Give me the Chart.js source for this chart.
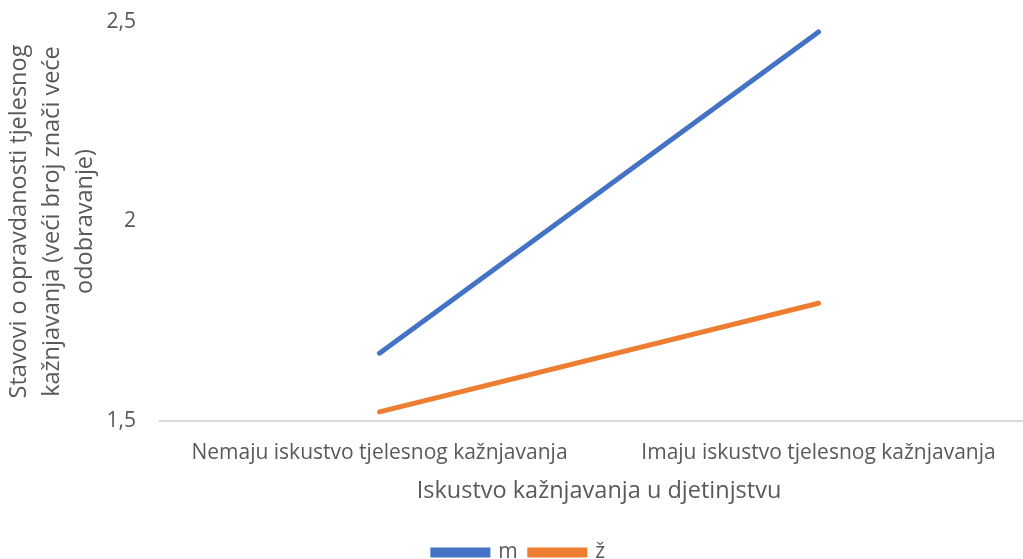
<!DOCTYPE html>
<html>
<head>
<meta charset="utf-8">
<script src="https://cdn.jsdelivr.net/npm/chart.js@4.4.1/dist/chart.umd.min.js"></script>
<style>
  html, body { margin: 0; padding: 0; background: #fff; overflow: hidden; }
  #wrap { width: 1023px; height: 559px; overflow: hidden; }
</style>
</head>
<body>
<div id="wrap"><canvas id="chart" width="1040" height="559"></canvas></div>
<script>
  // Chart data
  const categories = ['Nemaju iskustvo tjelesnog kažnjavanja', 'Imaju iskustvo tjelesnog kažnjavanja'];
  const seriesNames = ['m', 'ž'];
  const valuesM = [1.67, 2.475];
  const valuesZ = [1.523, 1.795];
  const yTicks = [1.5, 2, 2.5];

  const fontFamily = "'Open Sans', 'Noto Sans', sans-serif";
  const textColor = '#595959';

  const ctx = document.getElementById('chart').getContext('2d');
  new Chart(ctx, {
    type: 'line',
    data: {
      labels: categories,
      datasets: [
        {
          label: seriesNames[0],
          data: valuesM,
          borderColor: '#4472C4',
          backgroundColor: '#4472C4',
          borderWidth: 5,
          borderCapStyle: 'round',
          pointRadius: 0
        },
        {
          label: seriesNames[1],
          data: valuesZ,
          borderColor: '#ED7D31',
          backgroundColor: '#ED7D31',
          borderWidth: 5,
          borderCapStyle: 'round',
          pointRadius: 0
        }
      ]
    },
    options: {
      responsive: false,
      animation: false,
      layout: { padding: { top: 22, right: 2, left: 0, bottom: -14 } },
      plugins: {
        tooltip: { enabled: false },
        legend: {
          position: 'bottom',
          labels: {
            boxWidth: 55,
            boxHeight: 5,
            padding: 12,
            color: textColor,
            font: { family: fontFamily, size: 21 }
          }
        }
      },
      scales: {
        x: {
          offset: true,
          grid: { display: false },
          border: { color: '#d9d9d9', width: 2 },
          ticks: {
            color: textColor,
            padding: 11,
            maxRotation: 0,
            font: { family: fontFamily, size: 21 }
          },
          title: {
            display: true,
            text: 'Iskustvo kažnjavanja u djetinjstvu',
            color: textColor,
            font: { family: fontFamily, size: 23.5 },
            padding: { top: 10, bottom: 25 }
          },
          afterFit: scale => { scale.height = 109; }
        },
        y: {
          min: 1.5,
          max: 2.5,
          grid: { display: false },
          border: { display: false },
          afterBuildTicks: scale => { scale.ticks = yTicks.map(v => ({ value: v })); },
          ticks: {
            color: textColor,
            padding: 16,
            font: { family: fontFamily, size: 21 },
            callback: v => String(v).replace('.', ',')
          },
          title: {
            display: true,
            text: ['Stavovi o opravdanosti tjelesnog', 'kažnjavanja (veći broj znači veće', 'odobravanje)'],
            color: textColor,
            font: { family: fontFamily, size: 23.5, lineHeight: 1.4 },
            padding: { top: 3, bottom: 0 }
          },
          afterFit: scale => {
            scale.width = 160;
            scale.paddingTop = 0;
            scale.paddingBottom = 0;
          }
        }
      }
    }
  });
</script>
</body>
</html>
